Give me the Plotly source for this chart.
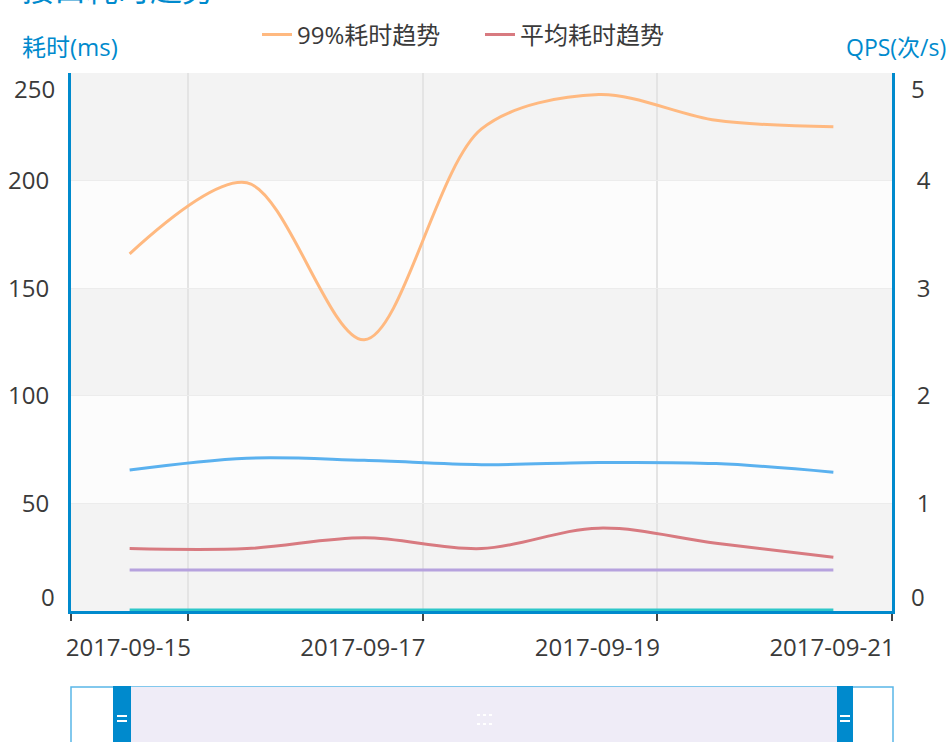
import plotly.graph_objects as go

# ---- data ----
dates = ["2017-09-14 12:00", "2017-09-15 12:00", "2017-09-16 12:00", "2017-09-17 12:00",
         "2017-09-18 12:00", "2017-09-19 12:00", "2017-09-20 12:00"]
p99_ms = [166, 199, 126, 224, 240, 228, 225]
avg_ms = [29, 29, 34, 29, 38.5, 31.5, 25]
other_ms = [65.5, 71, 70, 68, 69, 68.5, 64.5]
min_ms = [19, 19, 19, 19, 19, 19, 19]
qps = [0.01, 0.01, 0.01, 0.01, 0.01, 0.01, 0.01]

x_tickvals = ["2017-09-14", "2017-09-15", "2017-09-17", "2017-09-19", "2017-09-21"]
x_ticktext = ["", "2017-09-15", "2017-09-17", "2017-09-19", "2017-09-21"]
y_tickvals = [50, 100, 150, 200]
y2_tickvals = [1, 2, 3, 4]

FONT = "Open Sans, Noto Sans CJK SC, sans-serif"
FS = 24
BLUE = "#008acd"
TXT = "#3a3a3a"
W, H = 952, 742
L, R, T, B = 71, 60, 73, 131
PW, PH = W - L - R, H - T - B


def px(xp):
    return (xp - L) / PW


def py(yp):
    return (H - B - yp) / PH


fig = go.Figure()
fig.add_trace(go.Scatter(x=dates, y=qps, yaxis="y2", mode="lines", showlegend=False,
                         line=dict(color="#2ec7c9", width=3, shape="spline"), name="QPS"))
fig.add_trace(go.Scatter(x=dates, y=min_ms, mode="lines", showlegend=False,
                         line=dict(color="#b6a2de", width=3, shape="spline"), name="最小耗时"))
fig.add_trace(go.Scatter(x=dates, y=other_ms, mode="lines", showlegend=False,
                         line=dict(color="#5ab1ef", width=3, shape="spline"), name="耗时"))
fig.add_trace(go.Scatter(x=dates, y=p99_ms, mode="lines", name="99%耗时趋势",
                         line=dict(color="#ffb980", width=3, shape="spline", smoothing=0.9)))
fig.add_trace(go.Scatter(x=dates, y=avg_ms, mode="lines", name="平均耗时趋势",
                         line=dict(color="#d87a80", width=3, shape="spline")))

shapes = []
band_cols = ["#f3f3f3", "#fcfcfc", "#f3f3f3", "#fcfcfc", "#f3f3f3"]
for i, c in enumerate(band_cols):
    shapes.append(dict(type="rect", xref="paper", yref="y", x0=0, x1=1, y0=i * 50, y1=(i + 1) * 50,
                       fillcolor=c, line=dict(width=0), layer="below"))

# data zoom slider (decoration)
sy0, sy1 = py(760), py(687)
shapes += [
    dict(type="rect", xref="paper", yref="paper", x0=px(71), x1=px(893), y0=sy0, y1=sy1,
         fillcolor="white", line=dict(color="#59b6e8", width=1.5)),
    dict(type="rect", xref="paper", yref="paper", x0=px(131), x1=px(837), y0=sy0, y1=sy1,
         fillcolor="#efecf7", line=dict(width=0)),
    dict(type="rect", xref="paper", yref="paper", x0=px(113), x1=px(131), y0=sy0, y1=py(686),
         fillcolor=BLUE, line=dict(width=0)),
    dict(type="rect", xref="paper", yref="paper", x0=px(837), x1=px(853), y0=sy0, y1=py(686),
         fillcolor=BLUE, line=dict(width=0)),
    # handle grip marks
    dict(type="line", xref="paper", yref="paper", x0=px(117), x1=px(127), y0=py(716), y1=py(716),
         line=dict(color="white", width=2)),
    dict(type="line", xref="paper", yref="paper", x0=px(117), x1=px(127), y0=py(721), y1=py(721),
         line=dict(color="white", width=2)),
    dict(type="line", xref="paper", yref="paper", x0=px(840), x1=px(850), y0=py(716), y1=py(716),
         line=dict(color="white", width=2)),
    dict(type="line", xref="paper", yref="paper", x0=px(840), x1=px(850), y0=py(721), y1=py(721),
         line=dict(color="white", width=2)),
    dict(type="line", xref="paper", yref="paper", x0=px(477), x1=px(494), y0=py(715), y1=py(715),
         line=dict(color="white", width=2, dash="dot")),
    dict(type="line", xref="paper", yref="paper", x0=px(477), x1=px(494), y0=py(724), y1=py(724),
         line=dict(color="white", width=2, dash="dot")),
]

annotations = [
    dict(text="耗时(ms)", xref="paper", yref="paper", x=px(70), y=py(47), showarrow=False,
         xanchor="center", yanchor="middle", font=dict(family=FONT, size=FS, color=BLUE)),
    dict(text="QPS(次/s)", xref="paper", yref="paper", x=px(896), y=py(47), showarrow=False,
         xanchor="center", yanchor="middle", font=dict(family=FONT, size=FS - 1, color=BLUE)),
    dict(text="接口耗时趋势", xref="paper", yref="paper", x=px(20), y=py(-12), showarrow=False,
         xanchor="left", yanchor="middle", font=dict(family=FONT, size=32, color=BLUE)),
    dict(text="0", xref="paper", yref="y", x=0, y=0, xshift=-14, yshift=15, showarrow=False,
         xanchor="right", yanchor="middle", font=dict(family=FONT, size=FS, color=TXT)),
    dict(text="250", xref="paper", yref="y", x=0, y=250, xshift=-14, yshift=-15, showarrow=False,
         xanchor="right", yanchor="middle", font=dict(family=FONT, size=FS, color=TXT)),
    dict(text="0", xref="paper", yref="y2", x=1, y=0, xshift=17, yshift=15, showarrow=False,
         xanchor="left", yanchor="middle", font=dict(family=FONT, size=FS, color=TXT)),
    dict(text="5", xref="paper", yref="y2", x=1, y=5, xshift=17, yshift=-15, showarrow=False,
         xanchor="left", yanchor="middle", font=dict(family=FONT, size=FS, color=TXT)),
]

fig.update_layout(
    width=W, height=H, autosize=False,
    margin=dict(l=L, r=R, t=T, b=B, pad=0, autoexpand=False),
    paper_bgcolor="white", plot_bgcolor="white",
    font=dict(family=FONT, size=FS, color=TXT),
    shapes=shapes, annotations=annotations,
    legend=dict(orientation="h", x=px(257), xanchor="left", y=py(35), yanchor="middle",
                entrywidth=178, entrywidthmode="pixels",
                font=dict(family=FONT, size=FS, color=TXT), bgcolor="rgba(0,0,0,0)"),
    xaxis=dict(type="date", range=["2017-09-14", "2017-09-21"], tickvals=x_tickvals,
               ticktext=x_ticktext, ticks="outside", ticklen=7, tickwidth=2, tickcolor="#444",
               showline=True, linecolor=BLUE, linewidth=3, showgrid=True, gridcolor="#e4e4e4",
               gridwidth=1.5, zeroline=False, ticklabelshift=-60, ticklabelstandoff=6,
               automargin=False, tickfont=dict(family=FONT, size=FS, color=TXT)),
    yaxis=dict(range=[0, 250], tickvals=y_tickvals, showline=True, linecolor=BLUE, linewidth=3,
               showgrid=True, gridcolor="#ececec", zeroline=False, ticks="", automargin=False,
               ticklabelstandoff=14, tickfont=dict(family=FONT, size=FS, color=TXT)),
    yaxis2=dict(range=[0, 5], tickvals=y2_tickvals, overlaying="y", side="right", showline=True,
                linecolor=BLUE, linewidth=3, showgrid=False, zeroline=False, ticks="",
                automargin=False, ticklabelstandoff=17,
                tickfont=dict(family=FONT, size=FS, color=TXT)),
)

fig.write_html("out.html", config={"displayModeBar": False},
               post_script="document.body.style.margin='0';")
